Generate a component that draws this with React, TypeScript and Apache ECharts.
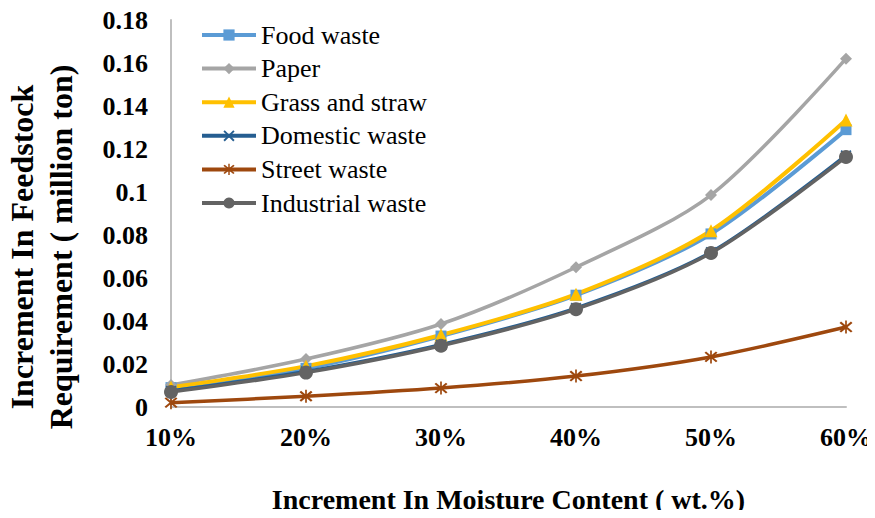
import React, { useEffect, useRef } from "react";
import * as echarts from "echarts";

// Moisture content steps on the category axis
const moisture = ["10%", "20%", "30%", "40%", "50%", "60%"];

// Increment in feedstock requirement (million ton) per waste type
const foodWaste = [0.009, 0.018, 0.033, 0.052, 0.0805, 0.129];
const paper = [0.0102, 0.0223, 0.0386, 0.065, 0.0986, 0.162];
const grassStraw = [0.0092, 0.019, 0.0335, 0.0525, 0.082, 0.1335];
const domesticWaste = [0.0075, 0.0165, 0.029, 0.046, 0.072, 0.117];
const streetWaste = [0.002, 0.005, 0.0088, 0.0144, 0.0233, 0.0372];
const industrialWaste = [0.007, 0.016, 0.0285, 0.0455, 0.0716, 0.1163];

const SERIF = "'Liberation Serif', 'Times New Roman', serif";

// Filled outline shapes for the cross and asterisk markers
const CROSS =
  "path://M0,1.2L1.2,0L10,8.8L8.8,10Z M8.8,0L10,1.2L1.2,10L0,8.8Z";
const ASTERISK =
  "path://M0,1.2L1.2,0L10,8.8L8.8,10Z M8.8,0L10,1.2L1.2,10L0,8.8Z M4.35,-1L5.65,-1L5.65,11L4.35,11Z";

type SeriesDef = {
  name: string;
  data: number[];
  color: string;
  symbol: string;
  size: number;
  width: number;
};

const seriesDefs: SeriesDef[] = [
  { name: "Food waste", data: foodWaste, color: "#5b9bd5", symbol: "rect", size: 11, width: 4 },
  { name: "Paper", data: paper, color: "#a5a5a5", symbol: "diamond", size: 12, width: 3.5 },
  { name: "Grass and straw", data: grassStraw, color: "#ffc000", symbol: "triangle", size: 13, width: 4 },
  { name: "Domestic waste", data: domesticWaste, color: "#255e91", symbol: CROSS, size: 11, width: 3.5 },
  { name: "Street waste", data: streetWaste, color: "#9e480e", symbol: ASTERISK, size: 13, width: 3.5 },
  { name: "Industrial waste", data: industrialWaste, color: "#636363", symbol: "circle", size: 14, width: 3.5 },
];

const legendFont = { fontFamily: SERIF, fontSize: 26, color: "#000", lineHeight: 26 };

const yTitleStyle = {
  fontFamily: SERIF,
  fontSize: 32,
  fontWeight: "bold",
  fill: "#000",
  align: "center",
  verticalAlign: "middle",
};

export default function App() {
  const ref = useRef<HTMLDivElement>(null);

  useEffect(() => {
    if (!ref.current) return;
    const chart = echarts.init(ref.current, undefined, { renderer: "svg" });

    chart.setOption({
      animation: false,
      backgroundColor: "#ffffff",
      textStyle: { fontFamily: SERIF },
      grid: { left: 171, right: 29, top: 20, bottom: 111, containLabel: false },
      legend: {
        orient: "vertical",
        left: 200,
        top: 22,
        padding: 0,
        itemWidth: 54,
        itemHeight: 14,
        itemGap: 7.6,
        backgroundColor: "#ffffff",
        lineStyle: { width: 4 },
        textStyle: legendFont,
        data: seriesDefs.map((s) => s.name),
      },
      xAxis: {
        type: "category",
        data: moisture,
        boundaryGap: false,
        axisLine: { show: true, lineStyle: { color: "#bfbfbf", width: 2 } },
        axisTick: { show: false },
        axisLabel: {
          fontFamily: SERIF,
          fontSize: 26,
          fontWeight: "bold",
          color: "#000",
          margin: 17,
        },
        name: "Increment In Moisture Content ( wt.%)",
        nameLocation: "middle",
        nameGap: 78,
        nameTextStyle: { fontFamily: SERIF, fontSize: 28, fontWeight: "bold", color: "#000" },
      },
      yAxis: {
        type: "value",
        min: 0,
        max: 0.18,
        interval: 0.02,
        axisLine: { show: true, lineStyle: { color: "#bfbfbf", width: 2 } },
        axisTick: { show: false },
        splitLine: { show: false },
        axisLabel: {
          fontFamily: SERIF,
          fontSize: 26,
          fontWeight: "bold",
          color: "#000",
          margin: 23,
          formatter: (v: number) => String(parseFloat(v.toFixed(2))),
        },
      },
      graphic: [
        {
          type: "text",
          x: 22,
          y: 247,
          rotation: Math.PI / 2,
          style: { ...yTitleStyle, text: "Increment In Feedstock" },
        },
        {
          type: "text",
          x: 61,
          y: 247,
          rotation: Math.PI / 2,
          style: { ...yTitleStyle, text: "Requirement ( million ton)" },
        },
      ],
      series: seriesDefs.map((s) => ({
        name: s.name,
        type: "line",
        data: s.data,
        smooth: 0.3,
        symbol: s.symbol,
        symbolSize: s.size,
        lineStyle: { color: s.color, width: s.width },
        itemStyle: { color: s.color },
      })),
    });

    return () => chart.dispose();
  }, []);

  return <div ref={ref} style={{ width: 875, height: 518, margin: -8 }} />;
}
